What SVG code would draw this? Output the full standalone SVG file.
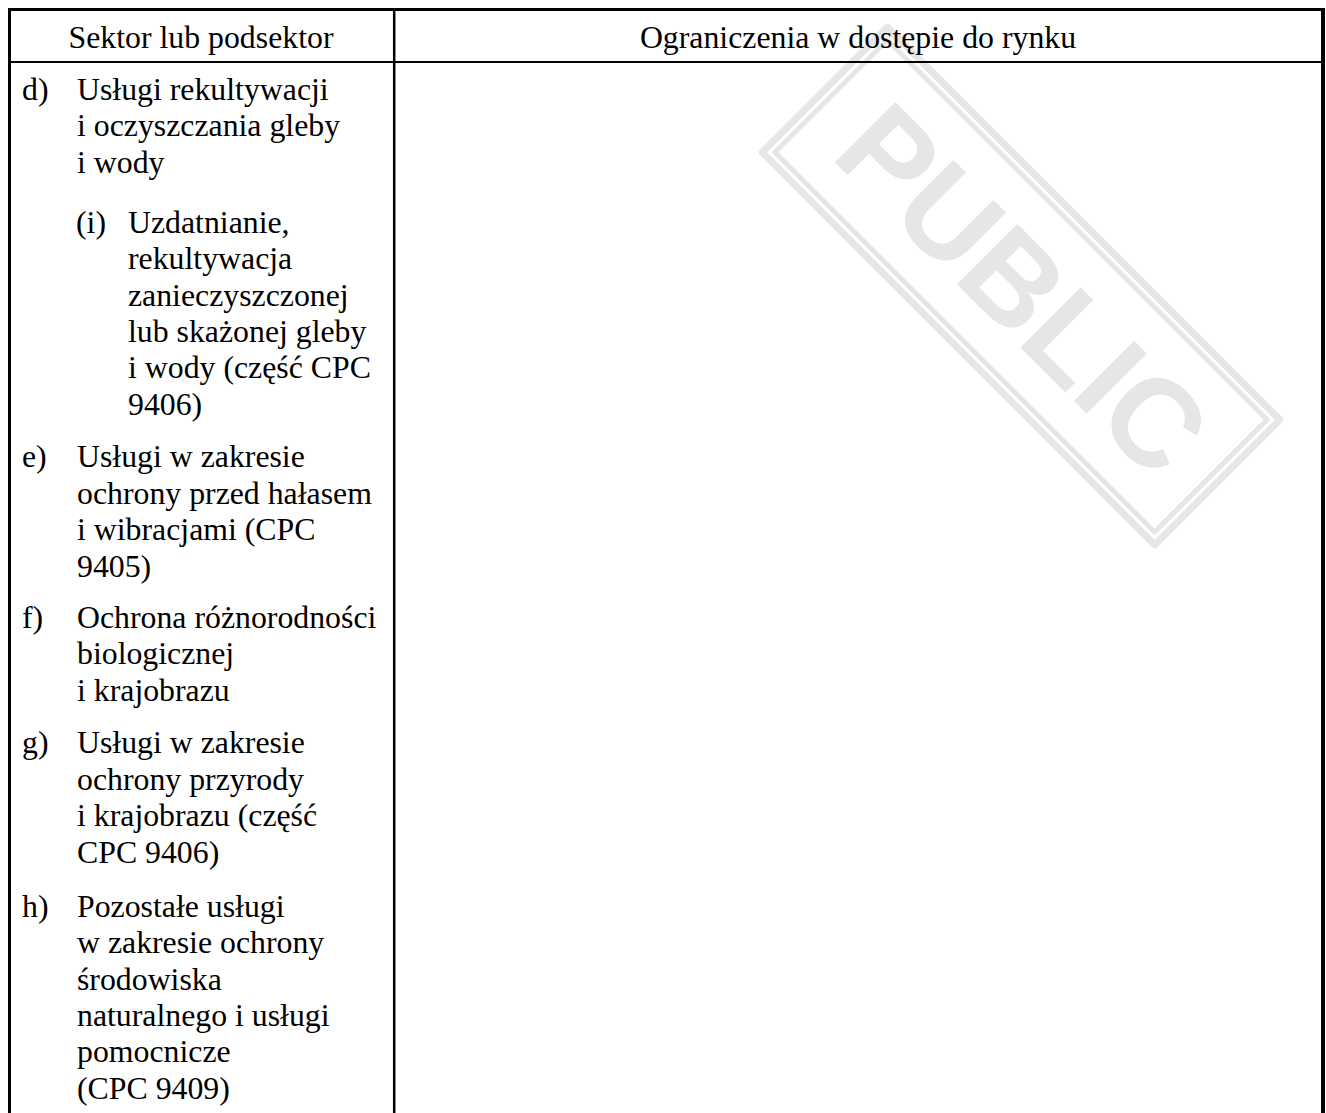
<svg xmlns="http://www.w3.org/2000/svg" width="1326" height="1113" viewBox="0 0 1326 1113">
<style>
  text { font-family: "Liberation Serif", "Times New Roman", serif; font-size: 31.8px; fill: #000; }
  .hd { text-anchor: middle; }
  .wm { fill: none; stroke: #e6e6e6; stroke-linejoin: round; }
  .wmt { font-family: "Liberation Sans", Arial, sans-serif; font-weight: bold; font-size: 124px; fill: #e6e6e6; }
  .ln { stroke: #000; fill: none; }
</style>
<rect width="1326" height="1113" fill="#fff"/>
<g id="watermark" transform="translate(1021,286) rotate(45)">
  <rect class="wm" x="-277.5" y="-88.5" width="555" height="177" stroke-width="7"/>
  <rect class="wm" x="-268.5" y="-79.5" width="537" height="159" stroke-width="5"/>
  <text class="wmt" x="-227" y="44">PUBLIC</text>
</g>
<g id="connectors">
  <line class="ln" x1="8" y1="9.5" x2="1325" y2="9.5" stroke-width="3"/>
  <line class="ln" x1="9.5" y1="8" x2="9.5" y2="1113" stroke-width="3"/>
  <line class="ln" x1="1323" y1="8" x2="1323" y2="1113" stroke-width="4"/>
  <line class="ln" x1="394.2" y1="8" x2="394.2" y2="1113" stroke-width="2.5"/>
  <line class="ln" x1="8" y1="62" x2="1325" y2="62" stroke-width="2"/>
</g>
<g id="header-sektor"><text class="hd" x="201" y="47.5">Sektor lub podsektor</text></g>
<g id="header-ograniczenia"><text class="hd" x="858" y="47.5">Ograniczenia w dostępie do rynku</text></g>
<g id="item-d">
  <text x="22" y="100">d)</text>
  <text><tspan x="77" y="100">Usługi rekultywacji</tspan><tspan x="77" y="136.4">i oczyszczania gleby</tspan><tspan x="77" y="172.8">i wody</tspan></text>
</g>
<g id="item-i">
  <text x="76" y="232.7">(i)</text>
  <text><tspan x="128" y="232.7">Uzdatnianie,</tspan><tspan x="128" y="269.1">rekultywacja</tspan><tspan x="128" y="305.5">zanieczyszczonej</tspan><tspan x="128" y="341.9">lub skażonej gleby</tspan><tspan x="128" y="378.3">i wody (część CPC</tspan><tspan x="128" y="414.7">9406)</tspan></text>
</g>
<g id="item-e">
  <text x="22" y="467.3">e)</text>
  <text><tspan x="77" y="467.3">Usługi w zakresie</tspan><tspan x="77" y="503.7">ochrony przed hałasem</tspan><tspan x="77" y="540.1">i wibracjami (CPC</tspan><tspan x="77" y="576.5">9405)</tspan></text>
</g>
<g id="item-f">
  <text x="22" y="627.7">f)</text>
  <text><tspan x="77" y="627.7">Ochrona różnorodności</tspan><tspan x="77" y="664.1">biologicznej</tspan><tspan x="77" y="700.5">i krajobrazu</tspan></text>
</g>
<g id="item-g">
  <text x="22" y="753.3">g)</text>
  <text><tspan x="77" y="753.3">Usługi w zakresie</tspan><tspan x="77" y="789.7">ochrony przyrody</tspan><tspan x="77" y="826.1">i krajobrazu (część</tspan><tspan x="77" y="862.5">CPC 9406)</tspan></text>
</g>
<g id="item-h">
  <text x="22" y="916.7">h)</text>
  <text><tspan x="77" y="916.7">Pozostałe usługi</tspan><tspan x="77" y="953.1">w zakresie ochrony</tspan><tspan x="77" y="989.5">środowiska</tspan><tspan x="77" y="1025.9">naturalnego i usługi</tspan><tspan x="77" y="1062.3">pomocnicze</tspan><tspan x="77" y="1098.7">(CPC 9409)</tspan></text>
</g>
</svg>
